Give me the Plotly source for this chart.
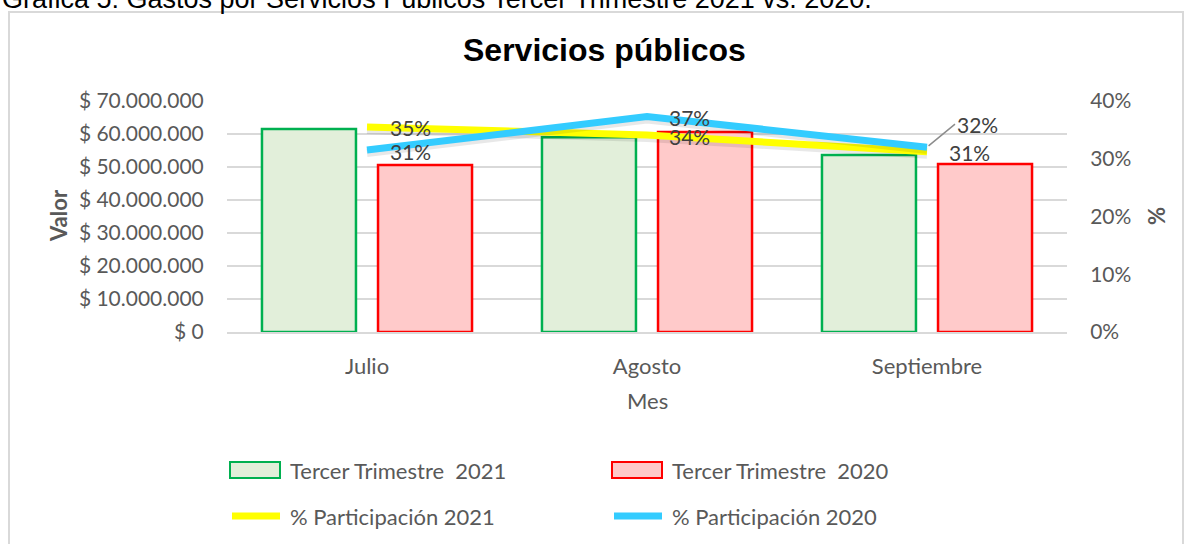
import plotly.graph_objects as go

# ---------------- data ----------------
months = ["Julio", "Agosto", "Septiembre"]
valor_2021 = [61.5e6, 59.0e6, 53.6e6]
valor_2020 = [50.6e6, 60.6e6, 50.9e6]
part_2021 = [0.355, 0.341, 0.312]
part_2020 = [0.315, 0.373, 0.320]
label_2021 = ["35%", "34%", "31%"]
label_2020 = ["31%", "37%", "32%"]
names = ["Tercer Trimestre\u00a0 2021", "Tercer Trimestre\u00a0 2020",
         "% Participación 2021", "% Participación 2020"]
left_ticks = [0, 10e6, 20e6, 30e6, 40e6, 50e6, 60e6, 70e6]
right_ticks = [0, 0.1, 0.2, 0.3, 0.4]
title_text = "Servicios públicos"
caption_text = "Gráfica 5: Gastos por Servicios Públicos Tercer Trimestre 2021 vs. 2020."


def money(v):
    return "$ " + f"{v:,.0f}".replace(",", ".")


# ---------------- layout helpers ----------------
W, H = 1186, 544
L, R, T, B = 227, 1067, 101, 332


def xp(px):
    return (px - L) / (R - L)


def yp(py):
    return (B - py) / (B - T)


GREY = "#595959"
LABEL = "#404040"
FONT = "Lato"

fig = go.Figure()
fig.add_trace(go.Bar(x=months, y=valor_2021, name=names[0],
                     marker=dict(color="#E2EFDA", line=dict(color="#00B050", width=2.5)),
                     showlegend=False))
fig.add_trace(go.Bar(x=months, y=valor_2020, name=names[1],
                     marker=dict(color="#FFCACA", line=dict(color="#FF0000", width=2.5)),
                     showlegend=False))
# subtle shadows under lines
fig.add_trace(go.Scatter(x=months, y=[v - 0.005 for v in part_2021], yaxis="y2", mode="lines",
                         line=dict(color="rgba(0,0,0,0.09)", width=8), hoverinfo="skip",
                         showlegend=False))
fig.add_trace(go.Scatter(x=months, y=part_2021, name=names[2], yaxis="y2", mode="lines",
                         line=dict(color="#FFFF00", width=7), showlegend=False))
fig.add_trace(go.Scatter(x=months, y=[v - 0.005 for v in part_2020], yaxis="y2", mode="lines",
                         line=dict(color="rgba(0,0,0,0.09)", width=8), hoverinfo="skip",
                         showlegend=False))
fig.add_trace(go.Scatter(x=months, y=part_2020, name=names[3], yaxis="y2", mode="lines",
                         line=dict(color="#33CCFF", width=7), showlegend=False))

annotations = []
shapes = []

LBL = 21
# data labels
shifts_2021 = [21, 20, 20]
shifts_2020 = [21, 20, 0]
for i, m in enumerate(months):
    annotations.append(dict(x=m, y=part_2021[i], xref="x", yref="y2", text=label_2021[i],
                            showarrow=False, xanchor="left", yanchor="middle",
                            xshift=shifts_2021[i], yshift=-1,
                            font=dict(family=FONT, size=LBL, color=LABEL)))
    if i < 2:
        annotations.append(dict(x=m, y=part_2020[i], xref="x", yref="y2", text=label_2020[i],
                                showarrow=False, xanchor="left", yanchor="middle",
                                xshift=shifts_2020[i], yshift=-1,
                                font=dict(family=FONT, size=LBL, color=LABEL)))
    else:
        annotations.append(dict(x=m, y=part_2020[i], xref="x", yref="y2", text=label_2020[i],
                                showarrow=True, arrowhead=0, arrowwidth=1.5, arrowcolor="#8C8C8C",
                                ax=28, ay=-23, xanchor="left", yanchor="middle", standoff=2,
                                font=dict(family=FONT, size=LBL, color=LABEL)))

# title & caption
annotations.append(dict(x=xp(604), y=yp(50), xref="paper", yref="paper", text="<b>" + title_text + "</b>",
                        showarrow=False, xanchor="center", yanchor="middle",
                        font=dict(family="Liberation Sans", size=32, color="#000000")))
annotations.append(dict(x=xp(0), y=yp(16), xref="paper", yref="paper", text=caption_text,
                        showarrow=False, xanchor="left", yanchor="bottom",
                        font=dict(family="Liberation Sans", size=27, color="#000000")))
# axis titles
annotations.append(dict(x=xp(58), y=yp(216), xref="paper", yref="paper", text="<b>Valor</b>",
                        textangle=-90, showarrow=False, xanchor="center", yanchor="middle",
                        font=dict(family=FONT, size=22, color=GREY)))
annotations.append(dict(x=xp(1157), y=yp(216), xref="paper", yref="paper", text="<b>%</b>",
                        textangle=90, showarrow=False, xanchor="center", yanchor="middle",
                        font=dict(family=FONT, size=22, color=GREY)))
annotations.append(dict(x=xp(647), y=yp(400), xref="paper", yref="paper", text="Mes",
                        showarrow=False, xanchor="center", yanchor="middle",
                        font=dict(family=FONT, size=22, color=GREY)))

# manual legend
leg = [(230, 470, names[0], "box", "#E2EFDA", "#00B050"),
       (612, 470, names[1], "box", "#FFCACA", "#FF0000"),
       (230, 516, names[2], "line", "#FFFF00", None),
       (612, 516, names[3], "line", "#33CCFF", None)]
for x0, yc, txt, kind, fill, edge in leg:
    if kind == "box":
        shapes.append(dict(type="rect", xref="paper", yref="paper",
                           x0=xp(x0), x1=xp(x0 + 50), y0=yp(yc - 8), y1=yp(yc + 8),
                           fillcolor=fill, line=dict(color=edge, width=2)))
    else:
        shapes.append(dict(type="line", xref="paper", yref="paper",
                           x0=xp(x0 + 2), x1=xp(x0 + 50), y0=yp(yc), y1=yp(yc),
                           line=dict(color=fill, width=7)))
    annotations.append(dict(x=xp(x0 + 58), y=yp(yc), xref="paper", yref="paper", text=txt,
                            showarrow=False, xanchor="left", yanchor="middle",
                            font=dict(family=FONT, size=22, color=GREY)))

# outer frame
shapes.append(dict(type="rect", xref="paper", yref="paper", layer="below",
                   x0=xp(9), x1=xp(1183), y0=yp(600), y1=yp(12),
                   fillcolor="rgba(0,0,0,0)", line=dict(color="#D9D9D9", width=2)))

fig.update_layout(
    width=W, height=H,
    margin=dict(l=L, r=W - R, t=T, b=H - B, autoexpand=False),
    paper_bgcolor="white", plot_bgcolor="white",
    barmode="group", bargap=0.171, bargroupgap=0.19,
    showlegend=False,
    annotations=annotations, shapes=shapes,
    xaxis=dict(showgrid=False, showline=True, linecolor="#D9D9D9", linewidth=1.5,
               ticks="outside", ticklen=14, tickcolor="rgba(0,0,0,0)",
               tickfont=dict(family=FONT, size=22, color=GREY), fixedrange=True),
    yaxis=dict(range=[0, 70e6], tickvals=left_ticks, ticktext=[money(v) for v in left_ticks],
               showgrid=True, gridcolor="#D9D9D9", gridwidth=1.5, zeroline=False, showline=False,
               ticks="outside", ticklen=18, tickcolor="rgba(0,0,0,0)",
               tickfont=dict(family=FONT, size=21, color=GREY)),
    yaxis2=dict(range=[0, 0.4], tickvals=right_ticks,
                ticktext=[f"{round(v * 100)}%" for v in right_ticks],
                overlaying="y", side="right", showgrid=False, zeroline=False, showline=False,
                ticks="outside", ticklen=18, tickcolor="rgba(0,0,0,0)",
                tickfont=dict(family=FONT, size=21, color=GREY)),
)

fig.write_html("out.html", config={"displayModeBar": False},
               post_script="document.body.style.margin='0';document.body.style.overflow='hidden';")
